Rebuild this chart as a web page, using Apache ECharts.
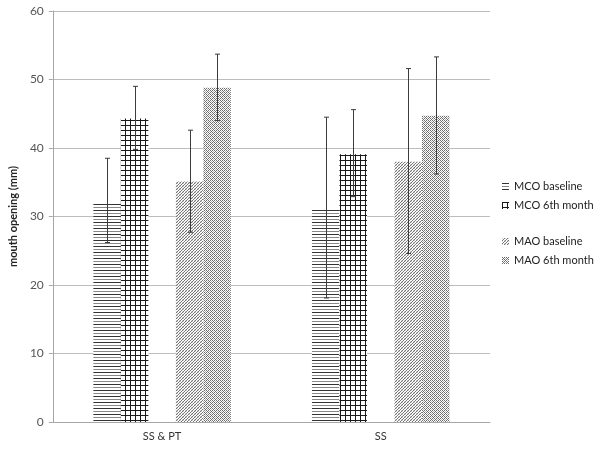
<!DOCTYPE html>
<html>
<head>
<meta charset="utf-8">
<script src="https://cdn.jsdelivr.net/npm/echarts@6/dist/echarts.min.js"></script>
<style>
  html, body { margin: 0; padding: 0; background: #fff; }
  #chart { width: 600px; height: 450px; }
</style>
</head>
<body>
<div id="chart"></div>
<script>
const categories = ['SS & PT', 'SS'];
const seriesNames = ['MCO baseline', 'MCO 6th month', 'MAO baseline', 'MAO 6th month'];
const mcoBaseline = [32.1, 31.0];
const mco6th = [44.3, 39.1];
const maoBaseline = [35.1, 38.0];
const mao6th = [48.8, 44.7];
// error bar ranges [low, high] per category
const mcoBaselineErr = [[26.2, 38.5], [18.1, 44.5]];
const mco6thErr = [[39.8, 49.0], [32.9, 45.6]];
const maoBaselineErr = [[27.7, 42.6], [24.6, 51.6]];
const mao6thErr = [[44.0, 53.7], [36.2, 53.3]];
const yTicks = [0, 10, 20, 30, 40, 50, 60];

const BAR_W = 27.5;

// small canvases used as fill patterns
function makePattern(size, draw) {
  const c = document.createElement('canvas');
  c.width = size; c.height = size;
  const ctx = c.getContext('2d');
  ctx.fillStyle = '#fff';
  ctx.fillRect(0, 0, size, size);
  draw(ctx);
  return { image: c, repeat: 'repeat' };
}

const horizPattern = makePattern(6, ctx => {
  ctx.fillStyle = '#333';
  ctx.fillRect(0, 0, 6, 1);
  ctx.fillStyle = '#888';
  ctx.fillRect(0, 3, 6, 1);
});
const gridPattern = makePattern(5, ctx => {
  ctx.fillStyle = '#1a1a1a';
  ctx.fillRect(0, 0, 5, 1);
  ctx.fillRect(0, 0, 1, 5);
});
const diagPattern = makePattern(3, ctx => {
  ctx.fillStyle = '#777';
  ctx.fillRect(2, 0, 1, 1);
  ctx.fillRect(1, 1, 1, 1);
  ctx.fillRect(0, 2, 1, 1);
  ctx.fillStyle = '#d4d4d4';
  ctx.fillRect(0, 0, 1, 1);
  ctx.fillRect(2, 2, 1, 1);
});
const checkPattern = makePattern(4, ctx => {
  ctx.fillStyle = '#6e6e6e';
  ctx.fillRect(0, 0, 1, 1);
  ctx.fillRect(2, 0, 1, 1);
  ctx.fillRect(1, 1, 1, 1);
  ctx.fillRect(0, 2, 1, 1);
  ctx.fillRect(2, 2, 1, 1);
  ctx.fillRect(3, 3, 1, 1);
  ctx.fillStyle = '#b0b0b0';
  ctx.fillRect(3, 1, 1, 1);
  ctx.fillRect(1, 3, 1, 1);
});

const patterns = [horizPattern, gridPattern, diagPattern, checkPattern];
const values = [mcoBaseline, mco6th, maoBaseline, mao6th];
const errs = [mcoBaselineErr, mco6thErr, maoBaselineErr, mao6thErr];
// slot of each series in the group, slot 2 is an empty spacer
const slots = [0, 1, 3, 4];

const errData = [];
errs.forEach((e, s) => {
  e.forEach((r, ci) => errData.push([ci, slots[s], r[0], r[1]]));
});

const barSeries = seriesNames.map((name, i) => ({
  name: name,
  type: 'bar',
  data: values[i],
  barWidth: BAR_W,
  barGap: '0%',
  itemStyle: { color: patterns[i] }
}));
// spacer series, keeps a gap between MCO and MAO bars
barSeries.splice(2, 0, {
  name: 'spacer',
  type: 'bar',
  data: ['-', '-'],
  barWidth: BAR_W,
  barGap: '0%',
  silent: true
});

const legendText = { fontSize: 11, color: '#222', fontFamily: 'Lato' };

const myChart = echarts.init(document.getElementById('chart'));
const option = {
  animation: false,
  backgroundColor: '#fff',
  textStyle: { fontFamily: 'Lato, "Open Sans", sans-serif' },
  grid: { left: 50, right: 110, top: 11, bottom: 28 },
  legend: [
    {
      orient: 'vertical',
      left: 502,
      top: 181,
      padding: 0,
      itemWidth: 7,
      itemHeight: 7,
      itemGap: 8,
      icon: 'rect',
      data: ['MCO baseline', 'MCO 6th month'],
      textStyle: legendText
    },
    {
      orient: 'vertical',
      left: 502,
      top: 236,
      padding: 0,
      itemWidth: 7,
      itemHeight: 7,
      itemGap: 8,
      icon: 'rect',
      data: ['MAO baseline', 'MAO 6th month'],
      textStyle: legendText
    }
  ],
  xAxis: {
    type: 'category',
    data: categories,
    axisLine: { lineStyle: { color: '#a6a6a6' } },
    axisTick: { show: false },
    axisLabel: { color: '#333', fontSize: 11, margin: 9 }
  },
  yAxis: {
    type: 'value',
    min: yTicks[0],
    max: yTicks[yTicks.length - 1],
    interval: 10,
    name: 'mouth opening (mm)',
    nameLocation: 'middle',
    nameGap: 31,
    nameTextStyle: { fontWeight: 'bold', fontSize: 11, color: '#222' },
    axisLine: { show: true, lineStyle: { color: '#a6a6a6' } },
    axisTick: { show: true, length: 4, lineStyle: { color: '#a6a6a6' } },
    axisLabel: { color: '#555', fontSize: 12, margin: 9 },
    splitLine: { lineStyle: { color: '#bdbdbd' } }
  },
  series: barSeries.concat([{
    name: 'error',
    type: 'custom',
    data: errData,
    z: 10,
    silent: true,
    renderItem: (params, api) => {
      const ci = api.value(0);
      const slot = api.value(1);
      const lo = api.coord([ci, api.value(2)]);
      const hi = api.coord([ci, api.value(3)]);
      const x = Math.round(lo[0] + (slot - 2) * BAR_W) + 0.5;
      const cap = 2.5;
      const style = { stroke: '#3c3c3c', lineWidth: 1 };
      return {
        type: 'group',
        children: [
          { type: 'line', shape: { x1: x, y1: lo[1], x2: x, y2: hi[1] }, style: style },
          { type: 'line', shape: { x1: x - cap, y1: lo[1], x2: x + cap, y2: lo[1] }, style: style },
          { type: 'line', shape: { x1: x - cap, y1: hi[1], x2: x + cap, y2: hi[1] }, style: style }
        ]
      };
    }
  }])
};
myChart.setOption(option);
window.addEventListener('resize', () => myChart.resize());
</script>
</body>
</html>
